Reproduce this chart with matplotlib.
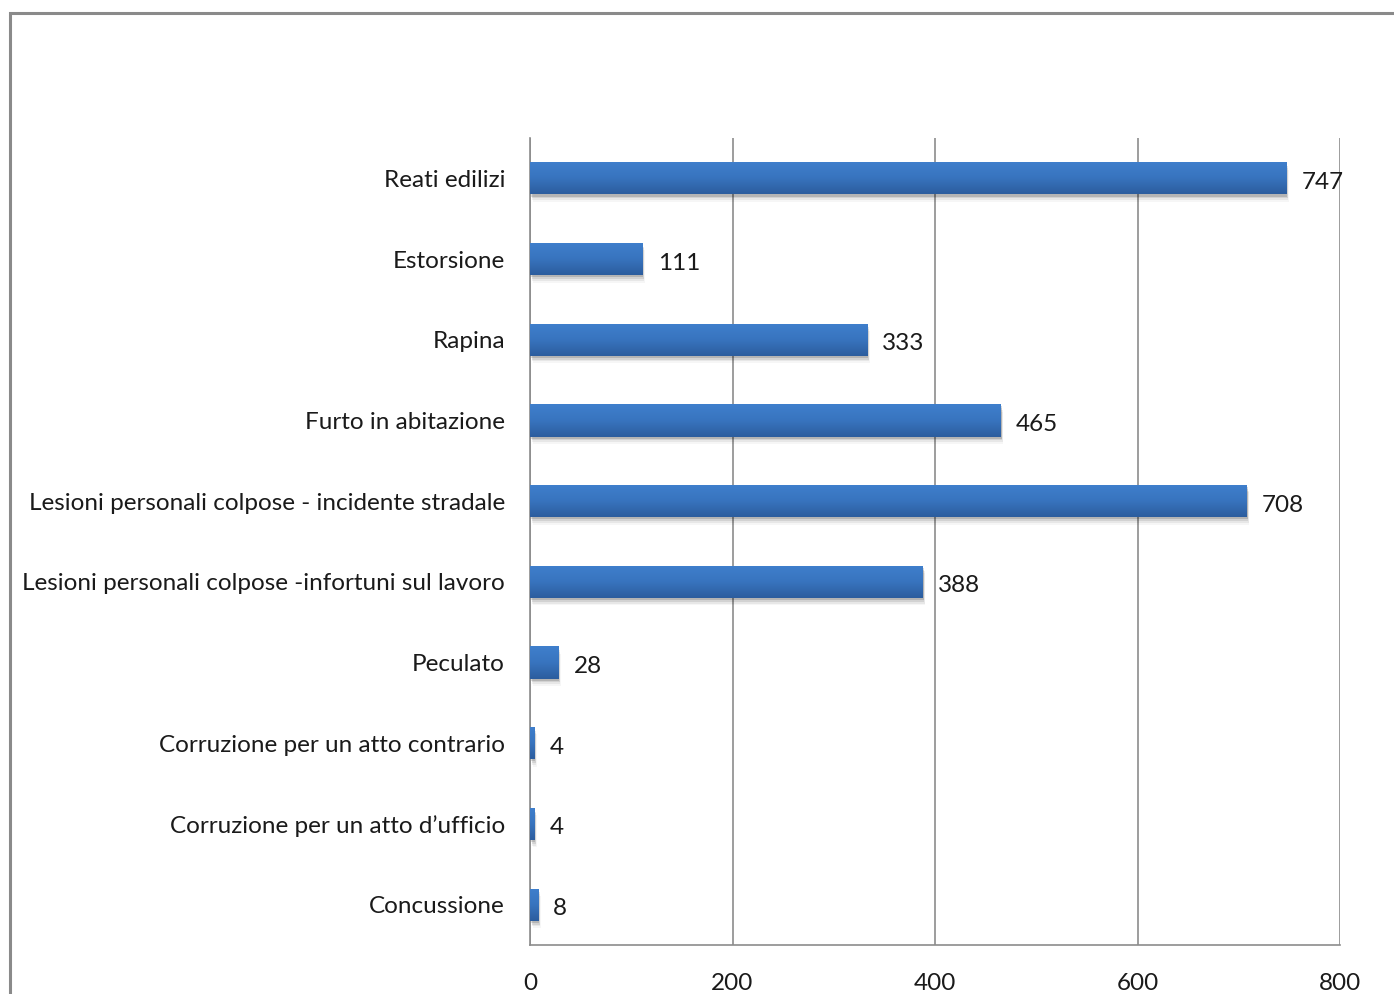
import matplotlib.pyplot as plt
import numpy as np
from matplotlib.patches import Rectangle
from matplotlib.colors import LinearSegmentedColormap

categories = [
    "Reati edilizi",
    "Estorsione",
    "Rapina",
    "Furto in abitazione",
    "Lesioni personali colpose - incidente stradale",
    "Lesioni personali colpose -infortuni sul lavoro",
    "Peculato",
    "Corruzione per un atto contrario",
    "Corruzione per un atto d\u2019ufficio",
    "Concussione",
]
values = [747, 111, 333, 465, 708, 388, 28, 4, 4, 8]
xticks = [0, 200, 400, 600, 800]

plt.rcParams['font.family'] = ['Lato', 'DejaVu Sans']

fig = plt.figure(figsize=(13.94, 9.94), dpi=100)
ax = fig.add_axes([530 / 1394, 49 / 994, 810 / 1394, 807 / 994])

n = len(categories)
ypos = np.arange(n)
bar_h = 0.4
fs = 17.5

# vertical gradient for the bars: lighter on top, darker at the bottom
grad = LinearSegmentedColormap.from_list("bar", ["#3f7fcc", "#3874bf", "#2c5d9e"])
g = np.linspace(0, 1, 64).reshape(-1, 1)

bars = ax.barh(ypos, values, height=bar_h, color="#3a76c2", zorder=3)
for b, v in zip(bars, values):
    x0, y0 = b.get_x(), b.get_y()
    w, h = b.get_width(), b.get_height()
    # soft drop shadow below the bar
    for k, a in enumerate([0.14, 0.09, 0.06, 0.035]):
        off = 0.025 + 0.022 * k
        ax.add_patch(Rectangle((x0 + 1.0 + 0.5 * k, y0 + off), w, h, color="black",
                               alpha=a, lw=0, zorder=2))
    im = ax.imshow(g, extent=[x0, x0 + w, y0 + h, y0], aspect="auto",
                   cmap=grad, zorder=4, interpolation="bilinear")
    im.set_clip_path(b)
    ax.text(v + 15, b.get_y() + h / 2 + 0.05, str(v), va="center", ha="left",
            fontsize=fs, color="#1a1a1a", zorder=5)

ax.set_xlim(0, 800)
ax.set_ylim(n - 0.5, -0.5)
ax.set_xticks(xticks)
ax.set_xticklabels([str(t) for t in xticks], fontsize=fs, color="#1a1a1a")
ax.set_yticks(ypos)
ax.set_yticklabels(categories, fontsize=fs, color="#1a1a1a")
ax.tick_params(axis="both", length=0)
ax.tick_params(axis="x", pad=20)
ax.tick_params(axis="y", pad=18)

ax.grid(axis="x", color="#8c8c8c", linewidth=1.2, zorder=0)
for s in ["top", "right"]:
    ax.spines[s].set_visible(False)
for s in ["left", "bottom"]:
    ax.spines[s].set_color("#8c8c8c")
    ax.spines[s].set_linewidth(1.2)

# outer chart frame (runs past the right and bottom edge)
fig.patches.append(Rectangle((10 / 1394, -0.1), 1.2, 1 - 13 / 994 + 0.1,
                             transform=fig.transFigure, fill=False,
                             edgecolor="#8a8a8a", linewidth=2.2))

fig.savefig("out.png", dpi=100, facecolor="white")
